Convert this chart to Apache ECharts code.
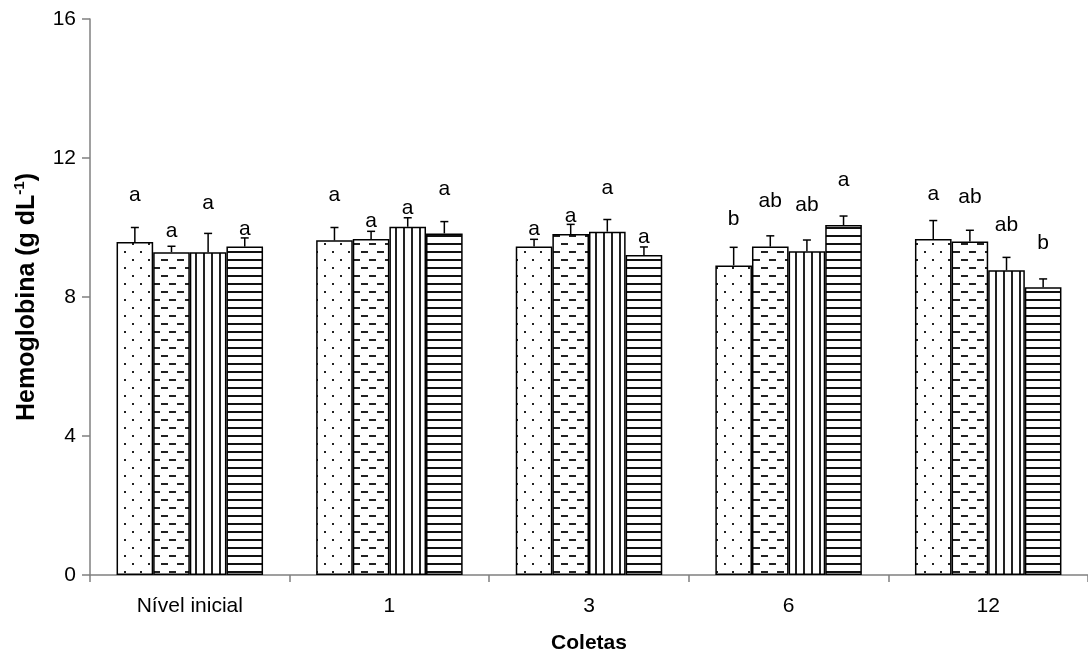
<!DOCTYPE html>
<html>
<head>
<meta charset="utf-8">
<script src="https://cdn.jsdelivr.net/npm/echarts@6/dist/echarts.min.js"></script>
<style>
html,body{margin:0;padding:0;background:#fff;}
#chart{width:1088px;height:659px;}
</style>
</head>
<body>
<div id="chart"></div>
<script>
// ---- data ----
const categories = ['Nível inicial', '1', '3', '6', '12'];
const yTicks = [0, 4, 8, 12, 16];
// mean values for the four treatments (series), per collection
const meanS1 = [9.58, 9.63, 9.45, 8.91, 9.67];
const meanS2 = [9.29, 9.67, 9.81, 9.45, 9.60];
const meanS3 = [9.29, 10.02, 9.88, 9.32, 8.77];
const meanS4 = [9.45, 9.83, 9.21, 10.07, 8.28];
// upper end of error bars
const errS1 = [10.00, 10.00, 9.66, 9.43, 10.20];
const errS2 = [9.46, 9.89, 10.09, 9.76, 9.92];
const errS3 = [9.83, 10.28, 10.23, 9.64, 9.14];
const errS4 = [9.70, 10.17, 9.44, 10.33, 8.52];
// significance letters and the value at which each is written
const letS1 = ['a', 'a', 'a', 'b', 'a'];
const letS2 = ['a', 'a', 'a', 'ab', 'ab'];
const letS3 = ['a', 'a', 'a', 'ab', 'ab'];
const letS4 = ['a', 'a', 'a', 'a', 'b'];
const letYS1 = [10.92, 10.92, 9.96, 10.24, 10.95];
const letYS2 = [9.9, 10.17, 10.33, 10.76, 10.88];
const letYS3 = [10.7, 10.55, 11.13, 10.64, 10.07];
const letYS4 = [9.95, 11.11, 9.73, 11.36, 9.54];

const means = [meanS1, meanS2, meanS3, meanS4];
const errs = [errS1, errS2, errS3, errS4];
const lets = [letS1, letS2, letS3, letS4];
const letYs = [letYS1, letYS2, letYS3, letYS4];

// ---- patterns ----
function makeTile(w, h, draw) {
  const c = document.createElement('canvas');
  c.width = w; c.height = h;
  const ctx = c.getContext('2d');
  ctx.fillStyle = '#fff'; ctx.fillRect(0, 0, w, h);
  draw(ctx);
  return c;
}
const dotTile = makeTile(16, 16, ctx => {
  ctx.fillStyle = '#222';
  ctx.fillRect(4, 3, 2, 2);
  ctx.fillRect(12, 11, 2, 2);
});
const dashTile = makeTile(16, 16, ctx => {
  ctx.fillStyle = '#222';
  ctx.fillRect(1, 3, 7, 2);
  ctx.fillRect(9, 11, 7, 2);
});
const vTile = makeTile(8, 4, ctx => {
  ctx.fillStyle = '#222';
  ctx.fillRect(3, 0, 2, 4);
});
const hTile = makeTile(4, 8, ctx => {
  ctx.fillStyle = '#111';
  ctx.fillRect(0, 3, 4, 2);
});
const tiles = [dotTile, dashTile, vTile, hTile];

const CAT_GAP = 0.266;
const FONT = 'Liberation Sans, Arial, sans-serif';

const series = means.map((m, s) => ({
  type: 'bar',
  data: m,
  barGap: '0%',
  barCategoryGap: (CAT_GAP * 100) + '%',
  itemStyle: {
    color: { image: tiles[s], repeat: 'repeat' },
    borderColor: '#000',
    borderWidth: 1.5
  },
  silent: true,
  animation: false
}));

const extraData = [];
for (let s = 0; s < 4; s++) {
  for (let i = 0; i < categories.length; i++) {
    extraData.push({ value: [i, s, means[s][i], errs[s][i], letYs[s][i]], text: lets[s][i] });
  }
}

series.push({
  type: 'custom',
  data: extraData.map(d => d.value),
  z: 10,
  silent: true,
  animation: false,
  renderItem: function (params, api) {
    const cat = api.value(0), s = api.value(1);
    const bandW = api.size([1, 0])[0];
    const barW = bandW * (1 - CAT_GAP) / 4;
    const x = api.coord([cat, 0])[0] + (s - 1.5) * barW;
    const yTop = api.coord([cat, api.value(2)])[1];
    const yErr = api.coord([cat, api.value(3)])[1];
    const yLab = api.coord([cat, api.value(4)])[1];
    return {
      type: 'group',
      children: [
        { type: 'line', shape: { x1: x, y1: yTop, x2: x, y2: yErr }, style: { stroke: '#000', lineWidth: 1.5 } },
        { type: 'line', shape: { x1: x - 4, y1: yErr, x2: x + 4, y2: yErr }, style: { stroke: '#000', lineWidth: 1.5 } },
        { type: 'text', x: x, y: yLab, style: { text: extraData[params.dataIndex].text, fill: '#000', font: '21px ' + FONT, align: 'center', verticalAlign: 'middle' } }
      ]
    };
  }
});

const chart = echarts.init(document.getElementById('chart'), null, { renderer: 'canvas' });
chart.setOption({
  backgroundColor: '#fff',
  animation: false,
  grid: { left: 90, top: 19, width: 1008, height: 556 },
  xAxis: {
    type: 'category',
    data: categories,
    axisLine: { lineStyle: { color: '#808080', width: 1.5 } },
    axisTick: { show: true, alignWithLabel: false, length: 7, lineStyle: { color: '#808080', width: 1.5 } },
    axisLabel: { color: '#000', fontSize: 21, fontFamily: FONT, margin: 21 },
    name: 'Coletas',
    nameLocation: 'middle',
    nameGap: 58,
    nameTextStyle: { color: '#000', fontSize: 21, fontWeight: 'bold', fontFamily: FONT }
  },
  yAxis: {
    type: 'value',
    min: yTicks[0],
    max: yTicks[yTicks.length - 1],
    interval: yTicks[1] - yTicks[0],
    splitLine: { show: false },
    axisLine: { show: true, lineStyle: { color: '#808080', width: 1.5 } },
    axisTick: { show: true, length: 8, lineStyle: { color: '#808080', width: 1.5 } },
    axisLabel: { color: '#000', fontSize: 21, fontFamily: FONT, margin: 14 },
    name: 'Hemoglobina (g dL{sup|-1})',
    nameLocation: 'middle',
    nameRotate: 90,
    nameGap: 47,
    nameTextStyle: {
      color: '#000', fontSize: 25, fontWeight: 'bold', fontFamily: FONT, lineHeight: 29,
      rich: { sup: { fontSize: 15, fontWeight: 'bold', fontFamily: FONT, verticalAlign: 'top', lineHeight: 29, color: '#000' } }
    }
  },
  series: series
});
</script>
</body>
</html>
